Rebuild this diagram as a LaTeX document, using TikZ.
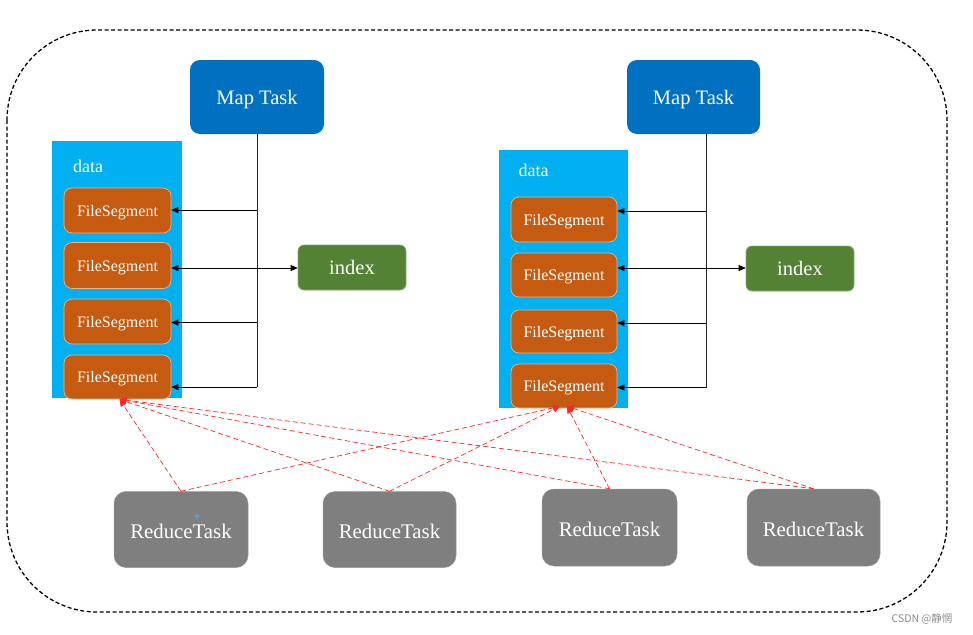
\documentclass[tikz,border=0pt]{standalone}
\usepackage{fontspec}
\setmainfont{Liberation Serif}
\newfontfamily\tnr{Liberation Serif}
\newfontfamily\cjk{Noto Sans CJK SC}
\usetikzlibrary{arrows.meta}
\definecolor{mapblue}{HTML}{0070C0}
\definecolor{databg}{HTML}{00B0F0}
\definecolor{segfill}{HTML}{C55A11}
\definecolor{segline}{HTML}{F4B183}
\definecolor{idxgreen}{HTML}{548235}
\definecolor{redgray}{HTML}{7F7F7F}
\definecolor{markblue}{HTML}{5B9BD5}
\tikzset{
  maptask/.style={fill=mapblue, rounded corners=10pt, minimum width=134pt, minimum height=74pt, inner sep=0pt, text depth=0pt, text=white, font=\tnr\fontsize{20.5}{24}\selectfont},
  databox/.style={fill=databg, minimum width=130pt, minimum height=257pt, inner sep=0pt},
  datalabel/.style={text=white, inner sep=0pt, font=\tnr\fontsize{18}{20}\selectfont},
  seg/.style={fill=segfill, draw=segline, line width=0.7pt, rounded corners=8pt, minimum width=107pt, minimum height=45pt, inner sep=0pt, text depth=0pt, text=white, font=\tnr\fontsize{16}{18}\selectfont},
  idx/.style={fill=idxgreen, draw=idxgreen!70!white, line width=0.6pt, rounded corners=6pt, minimum width=108pt, minimum height=45pt, inner sep=0pt, text=white, font=\tnr\fontsize{20.5}{24}\selectfont},
  reduce/.style={fill=redgray, draw=redgray!80!white, line width=0.5pt, rounded corners=12pt, minimum width=134pt, minimum height=76pt, inner sep=0pt, text height=18pt, text depth=0pt, text=white, font=\tnr\fontsize{20.8}{24}\selectfont},
  blackarrow/.style={draw=black, line width=0.8pt, -{Triangle[length=7pt,width=6pt]}},
  blackboth/.style={draw=black, line width=0.8pt, {Triangle[length=7pt,width=6pt]}-{Triangle[length=7pt,width=6pt]}},
  blackline/.style={draw=black!85, line width=0.9pt},
  redarrow/.style={draw=red!85, line width=0.7pt, dash pattern=on 5pt off 3pt, -{Triangle[length=7pt,width=6pt]}},
  outerframe/.style={draw=black, line width=1.3pt, dash pattern=on 4pt off 2.5pt, rounded corners=90pt}
}
\begin{document}
\begin{tikzpicture}[x=1pt,y=-1pt]
\useasboundingbox (0,0) rectangle (973,634);
% outer frame
\draw[outerframe] (7,30) rectangle (947,612);

% data blocks
\node[databox] (dataL) at (117,269.5) {};
\node[databox, minimum width=129pt, minimum height=258pt] (dataR) at (563.5,279) {};
\node[datalabel] (dlabL) at (88,166) {data};
\node[datalabel] (dlabR) at (533.5,170) {data};

% map tasks
\node[maptask] (mapL) at (257,97) {Map Task};
\node[maptask, minimum width=133pt] (mapR) at (693.5,97) {Map Task};

% file segments left
\node[seg] (segL1) at (117.5,210.5) {FileSegment};
\node[seg, minimum height=46pt] (segL2) at (117.5,265.5) {FileSegment};
\node[seg] (segL3) at (117.5,321.5) {FileSegment};
\node[seg, minimum height=44pt] (segL4) at (117.5,377) {FileSegment};
% file segments right
\node[seg, minimum width=106pt] (segR1) at (564,219.5) {FileSegment};
\node[seg, minimum width=106pt, minimum height=44pt] (segR2) at (564,275) {FileSegment};
\node[seg, minimum width=106pt, minimum height=43pt] (segR3) at (564,331.5) {FileSegment};
\node[seg, minimum width=106pt, minimum height=44pt] (segR4) at (564,386) {FileSegment};

% index
\node[idx] (idxL) at (352,267.5) {index};
\node[idx] (idxR) at (800,268.5) {index};

% reduce tasks
\node[reduce] (red1) at (181,529.5) {ReduceTask};
\node[reduce, minimum width=133pt] (red2) at (389.5,529.5) {ReduceTask};
\node[reduce, minimum width=135pt, minimum height=77pt] (red3) at (609.5,527.5) {ReduceTask};
\node[reduce, minimum width=133pt, minimum height=77pt] (red4) at (813.5,527.5) {ReduceTask};

% left map connectors
\coordinate (lb1) at (257,210);
\coordinate (lb2) at (257,268);
\coordinate (lb3) at (257,322.5);
\coordinate (lb4) at (257,387);
\draw[blackline] (mapL.south) -- (lb4);
\draw[blackarrow] (lb1) -- (segL1.east |- lb1);
\draw[blackboth] (segL2.east |- lb2) -- (idxL.west |- lb2);
\draw[blackarrow] (lb3) -- (segL3.east |- lb3);
\draw[blackarrow] (lb4) -- (segL4.east |- lb4);

% right map connectors
\coordinate (rb1) at (706,211);
\coordinate (rb2) at (706,268);
\coordinate (rb3) at (706,323);
\coordinate (rb4) at (706,387.5);
\draw[blackline] (mapR.south -| rb1) -- (rb4);
\draw[blackarrow] (rb1) -- (segR1.east |- rb1);
\draw[blackboth] (segR2.east |- rb2) -- (idxR.west |- rb2);
\draw[blackarrow] (rb3) -- (segR3.east |- rb3);
\draw[blackarrow] (rb4) -- (segR4.east |- rb4);

% reduce fetch connectors
\coordinate (tL) at ([xshift=2pt]segL4.south);
\coordinate (tRa) at ([xshift=-4pt,yshift=2pt]segR4.south);
\coordinate (tRb) at ([xshift=3pt,yshift=2pt]segR4.south);
\draw[redarrow] (red1.north) -- (tL);
\draw[redarrow] (red1.north) -- (tRa);
\draw[redarrow] (red2.north) -- (tL);
\draw[redarrow] (red2.north) -- (tRa);
\draw[redarrow] (red3.north) -- (tL);
\draw[redarrow] (red3.north) -- (tRb);
\draw[redarrow] (red4.north) -- (tL);
\draw[redarrow] (red4.north) -- (tRb);

% small cursor mark
\fill[markblue] (194,514.5) -- (200,514.5) -- (197,520) -- cycle;

% watermark
\node[text=black!45, inner sep=0pt, font=\cjk\fontsize{10.5}{12}\selectfont] (wm) at (922,618.5) {CSDN @静惘};
\end{tikzpicture}
\end{document}
